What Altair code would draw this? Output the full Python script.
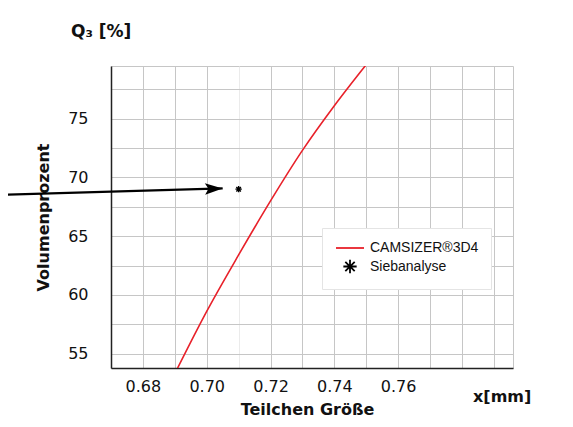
import altair as alt
import pandas as pd

# ---- data ----
curve_x = [0.69, 0.70, 0.71, 0.72, 0.73, 0.74, 0.75]
curve_y = [53.3, 58.6, 63.4, 68.0, 72.3, 76.1, 79.6]
sieb_x = [0.71]
sieb_y = [69.0]
arrow_x = [0.6352, 0.7050]
arrow_y = [68.51, 69.06]
series_names = ["CAMSIZER®3D4", "Siebanalyse"]
x_grid = [0.68, 0.69, 0.70, 0.71, 0.72, 0.73, 0.74, 0.75, 0.76, 0.77, 0.78, 0.79]
x_labels = ["0.68", "0.70", "0.72", "0.74", "0.76"]
y_grid = [55, 57.5, 60, 62.5, 65, 67.5, 70, 72.5, 75, 77.5]
x_domain = [0.67, 0.796]
y_domain = [53.78, 79.48]
y_title = "Volumenprozent"
x_title = "Teilchen Größe"
y_unit = ["Q₃ [%]"]
x_unit = ["x[mm]"]

RED = "#e8212a"
GRID = "#c6c6c6"
LINE_PATH = "M-2,0L2,0"
AST_PATH = "M0,-0.95L0,0.95M-0.95,0L0.95,0M-0.67,-0.67L0.67,0.67M-0.67,0.67L0.67,-0.67"
HEAD_PATH = "M0,0L-2,-0.65L-1.6,0L-2,0.65Z"

curve_df = pd.DataFrame({"x": curve_x, "y": curve_y})
sieb_df = pd.DataFrame({"x": sieb_x, "y": sieb_y})
arrow_df = pd.DataFrame({"x": [arrow_x[0]], "y": [arrow_y[0]], "x2": [arrow_x[1]], "y2": [arrow_y[1]]})
head_df = pd.DataFrame({"x": [arrow_x[1]], "y": [arrow_y[1]]})
legend_df = pd.DataFrame({"series": series_names})
yunit_df = pd.DataFrame({"t": y_unit})
xunit_df = pd.DataFrame({"t": x_unit})

label_list = "[" + ",".join("'%s'" % s for s in x_labels) + "]"

xenc = alt.X(
    "x:Q",
    scale=alt.Scale(domain=x_domain, nice=False, zero=False),
    axis=alt.Axis(
        values=x_grid,
        labelExpr="indexof(%s, format(datum.value, '.2f')) >= 0 ? format(datum.value, '.2f') : ''" % label_list,
        title=x_title,
        titleX=196,
        titleY=41,
        titleBaseline="middle",
        titleAlign="center",
        ticks=False,
        tickSize=0,
        labelPadding=10.5,
        labelFont="DejaVu Sans",
        labelFontSize=16,
        labelColor="#111111",
        labelFlush=False,
        labelOverlap=False,
        titleFont="DejaVu Sans",
        titleFontSize=16,
        titleFontWeight="bold",
        titleColor="#111111",
        domainColor="#222222",
        domainWidth=1.5,
        gridColor={"condition": {"test": "abs(datum.value - 0.71) < 0.001", "value": "#ebebeb"}, "value": GRID},
        gridWidth=1,
    ),
)
yenc = alt.Y(
    "y:Q",
    scale=alt.Scale(domain=y_domain, nice=False, zero=False),
    axis=alt.Axis(
        values=y_grid,
        labelExpr="datum.value % 5 == 0 ? format(datum.value, 'd') : ''",
        title=y_title,
        titleX=-68,
        titleY=151,
        titleAngle=270,
        titleBaseline="middle",
        titleAlign="center",
        ticks=False,
        tickSize=0,
        labelPadding=23,
        labelFont="DejaVu Sans",
        labelFontSize=16,
        labelColor="#111111",
        labelFlush=False,
        labelOverlap=False,
        titleFont="DejaVu Sans",
        titleFontSize=16,
        titleFontWeight="bold",
        titleColor="#111111",
        domainColor="#222222",
        domainWidth=1.5,
        gridColor=GRID,
        gridWidth=1,
    ),
)

curve = alt.Chart(curve_df).mark_line(color=RED, strokeWidth=1.6, interpolate="monotone", clip=True).encode(
    x=xenc, y=yenc
)

sieb = alt.Chart(sieb_df).mark_point(
    shape=AST_PATH, filled=False, color="black", size=45, strokeWidth=1.4, opacity=1
).encode(x=xenc, y=yenc)

arrow = alt.Chart(arrow_df).mark_rule(color="black", strokeWidth=2.2).encode(
    x=xenc, y=yenc, x2="x2:Q", y2="y2:Q"
)

head = alt.Chart(head_df).mark_point(
    shape=HEAD_PATH, filled=True, color="black", size=313, angle=358.35, opacity=1, strokeWidth=0
).encode(x=xenc, y=yenc)

leg = alt.Legend(
    title=None,
    orient="none",
    legendX=211,
    legendY=162,
    fillColor="white",
    strokeColor="#e4e4e4",
    padding=12,
    symbolSize=196,
    symbolStrokeWidth=1.8,
    symbolOffset=8,
    labelOffset=12,
    rowPadding=0.5,
    labelFont="Liberation Sans",
    labelFontSize=14,
    labelColor="#111111",
    symbolOpacity=1,
)
legend_layer = alt.Chart(legend_df).mark_point(filled=False, opacity=0).encode(
    color=alt.Color("series:N", scale=alt.Scale(domain=series_names, range=[RED, "black"]), legend=leg),
    shape=alt.Shape("series:N", scale=alt.Scale(domain=series_names, range=[LINE_PATH, AST_PATH]), legend=leg),
)

yunit = alt.Chart(yunit_df).mark_text(
    align="left", baseline="middle", font="DejaVu Sans", fontSize=17, fontWeight="bold", color="#111111"
).encode(x=alt.value(-40), y=alt.value(-34), text="t:N")

xunit = alt.Chart(xunit_df).mark_text(
    align="left", baseline="middle", font="DejaVu Sans", fontSize=16, fontWeight="bold", color="#111111"
).encode(x=alt.value(362), y=alt.value(331), text="t:N")

chart = (
    alt.layer(curve, arrow, head, sieb, legend_layer, yunit, xunit)
    .properties(
        width=402,
        height=302,
        autosize=alt.AutoSizeParams(type="none"),
        padding={"left": 103, "top": 58, "right": 52, "bottom": 51},
        background="white",
    )
    .configure_view(stroke=GRID, strokeWidth=1)
)

chart.save("out.html", embed_options={"renderer": "svg", "actions": False})
